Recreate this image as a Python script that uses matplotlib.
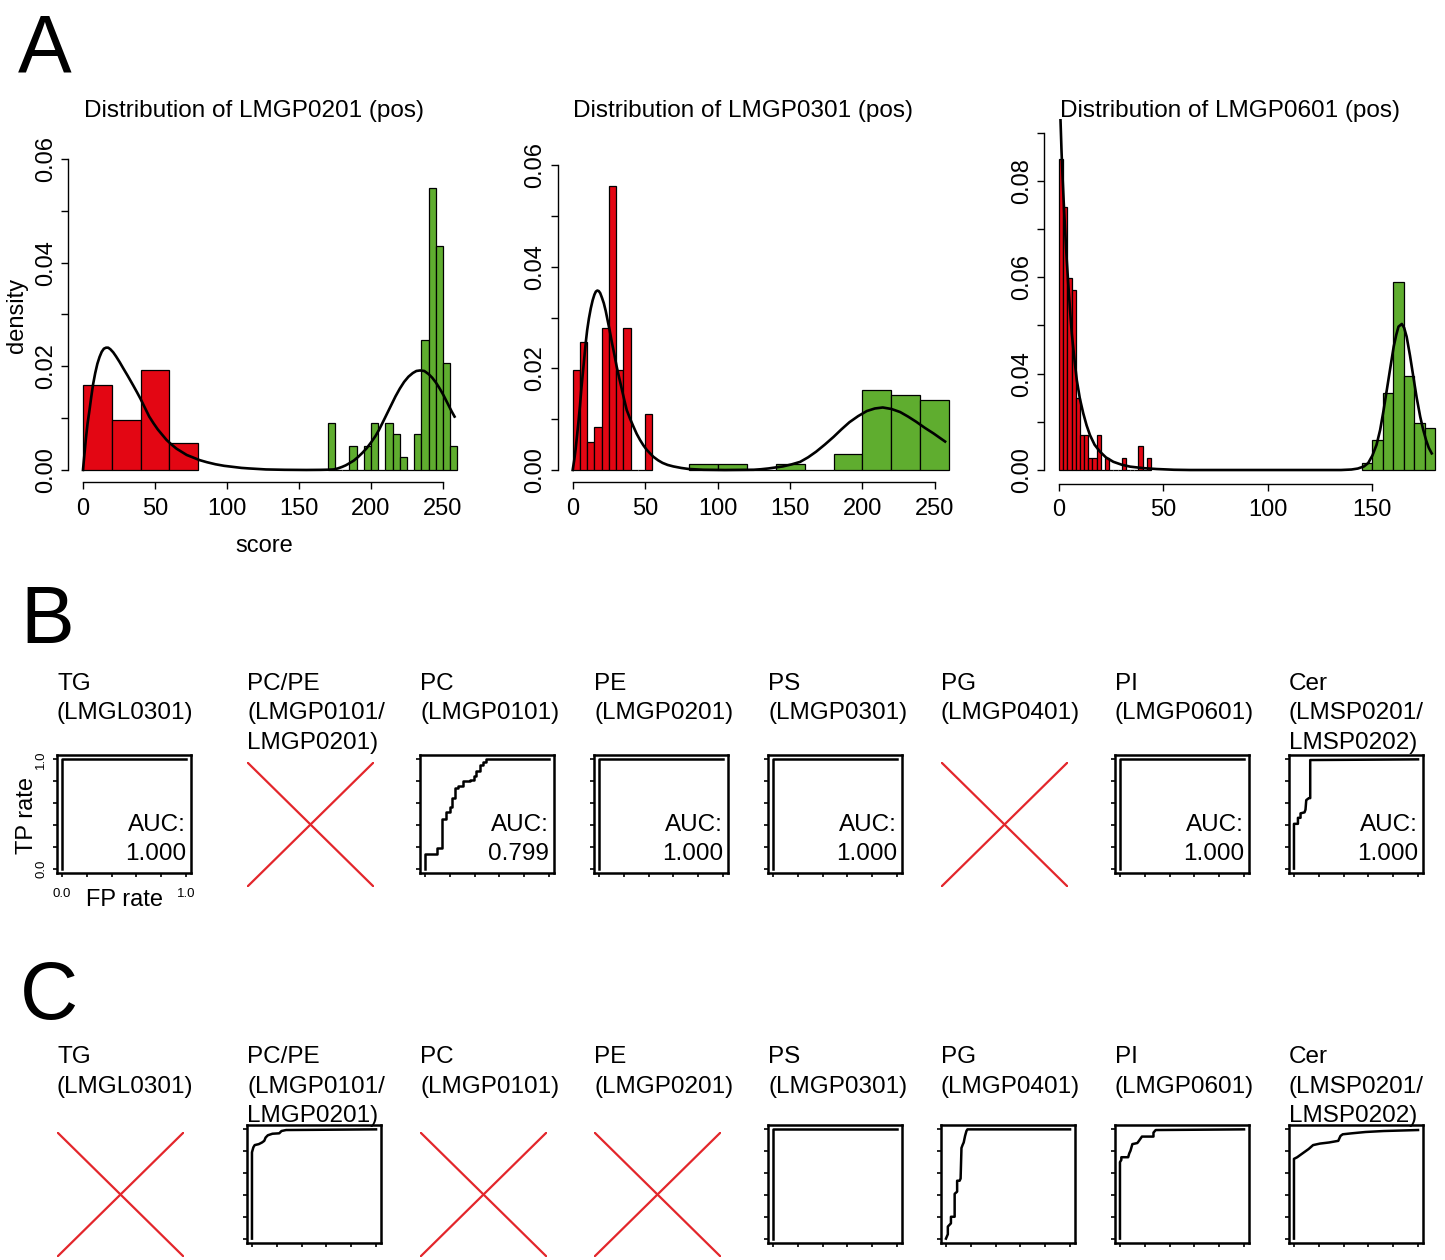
import matplotlib.pyplot as plt

plt.rcParams['font.family'] = ['Liberation Sans', 'DejaVu Sans']

W, H = 1445, 1260
RED = '#E30613'
GREEN = '#5FAD2F'
XRED = '#E3262B'

# ---------- A: histograms (bin left edge, density) + fitted curves ----------
h1_red_left = [0, 20, 40, 60]
h1_red = [0.0163, 0.0096, 0.0193, 0.0052]
h1_green_left = [170, 175, 180, 185, 190, 195, 200, 205, 210, 215, 220, 225, 230, 235, 240, 245, 250, 255]
h1_green = [0.0091, 0, 0, 0.0046, 0, 0.0046, 0.0091, 0, 0.0091, 0.0069, 0.0025, 0, 0.0069, 0.0251, 0.0545, 0.0432, 0.0206, 0.0046]
h1_curve_x = [0, 1, 2, 3.2, 4.5, 5.7, 7, 8.5, 10, 11.5, 13, 14.5, 16, 17.5, 19, 21, 23, 25.5, 28, 31, 34.7, 37.5,
              40, 43, 46, 49, 52, 55, 58, 61.5, 65, 68.5, 72, 76.5, 81, 86, 92, 98, 104, 110, 115, 121, 127, 140,
              155, 165, 170, 174, 177, 180, 182.5, 185, 188, 191, 194, 197, 200, 203, 205.5, 208, 211, 214, 217,
              220, 223, 226, 229, 231.5, 234, 237, 240, 242.5, 245, 247.5, 250, 252, 254, 256, 258]
h1_curve_y = [0, 0.003, 0.006, 0.009, 0.0115, 0.014, 0.0165, 0.0187, 0.0205, 0.0218, 0.0228, 0.0234, 0.0236,
              0.0236, 0.0233, 0.0227, 0.0219, 0.0208, 0.0196, 0.0182, 0.0164, 0.015, 0.0137, 0.012, 0.0103, 0.009,
              0.0078, 0.0068, 0.0058, 0.0049, 0.0041, 0.0035, 0.0029, 0.0024, 0.0019, 0.0015, 0.0011, 0.0008,
              0.0006, 0.0004, 0.0003, 0.0002, 0.0001, 0.00003, 0, 0.00002, 0.00005, 0.0001, 0.0003, 0.0006,
              0.0009, 0.0013, 0.0018, 0.0025, 0.0033, 0.0042, 0.0053, 0.0065, 0.0077, 0.0091, 0.0108, 0.0125,
              0.0142, 0.0157, 0.017, 0.018, 0.0187, 0.0191, 0.0192, 0.0191, 0.0185, 0.0178, 0.0169, 0.0158,
              0.0146, 0.0135, 0.0124, 0.0113, 0.0103]

h2_red_left = [0, 5, 10, 15, 20, 25, 30, 35, 40, 45, 50]
h2_red = [0.0196, 0.0251, 0.0056, 0.0084, 0.0279, 0.0558, 0.0196, 0.0279, 0, 0, 0.0111]
h2_green_left = [80, 100, 120, 140, 160, 180, 200, 220, 240]
h2_green = [0.0011, 0.0011, 0, 0.0011, 0, 0.0031, 0.0157, 0.0147, 0.0137]
h2_curve_x = [0, 1, 2, 3, 4, 5, 6, 7, 8, 9, 10, 11.2, 12.5, 13.8, 15, 16, 17, 18, 19, 20.2, 21.5, 22.8, 24, 25.5,
              27, 28.7, 30.4, 32.2, 34, 35.6, 37.3, 39.6, 42, 44.2, 46.5, 48.7, 51, 53.3, 55.7, 59, 62, 65.5,
              69.5, 75, 80, 90, 105, 125, 130, 135, 140, 145, 151, 157, 162.5, 168, 174, 180, 185.5, 191, 197,
              203, 208.5, 214, 220, 226, 231.5, 237, 243, 249, 253, 257]
h2_curve_y = [0, 0.0018, 0.004, 0.0067, 0.0095, 0.0125, 0.016, 0.019, 0.022, 0.025, 0.0275, 0.0298, 0.0318,
              0.0334, 0.0345, 0.0351, 0.0353, 0.0352, 0.0348, 0.0339, 0.0328, 0.0313, 0.0296, 0.0275, 0.0252,
              0.0228, 0.0203, 0.018, 0.0158, 0.0138, 0.0118, 0.0101, 0.0085, 0.0071, 0.0059, 0.0049, 0.004,
              0.0033, 0.0026, 0.0019, 0.0014, 0.001, 0.0007, 0.0004, 0.0002, 0.00005, 0, 0.00005, 0.00015,
              0.0003, 0.0005, 0.0007, 0.0011, 0.0016, 0.0025, 0.0036, 0.005, 0.0065, 0.008, 0.0094, 0.0106,
              0.0116, 0.0121, 0.0123, 0.012, 0.0114, 0.0105, 0.0095, 0.0083, 0.0072, 0.0064, 0.0056]

h3_red_left = [0, 2, 4, 6, 8, 10, 12, 14, 16, 18, 20, 22, 24, 26, 28, 30, 32, 34, 36, 38, 40, 42]
h3_red = [0.1289, 0.1093, 0.0795, 0.0747, 0.0297, 0.0145, 0.0145, 0.0049, 0.0049, 0.0145, 0, 0.0049,
          0, 0, 0, 0.0049, 0, 0, 0, 0.0101, 0, 0.0049]
h3_green_left = [145, 150, 155, 160, 165, 170, 175]
h3_green = [0.0028, 0.0124, 0.0318, 0.0781, 0.0390, 0.0196, 0.0173]
h3_curve_x = [0.7, 1.2, 1.75, 2.3, 2.9, 3.7, 4.5, 5.3, 6.1, 7.3, 8.5, 10, 11.6, 13.2, 14.8, 17, 19.6, 22.5, 26,
              30, 34, 40, 46.8, 55, 62.7, 135, 140, 143, 146, 148, 150, 152, 153.7, 155.3, 156.9, 158.5, 160.2,
              161.4, 162.5, 164.1, 165.2, 166.4, 168, 169.6, 171.2, 172.9, 174.3, 175.7, 177, 178.4]
h3_curve_y = [0.1452, 0.132, 0.1203, 0.11, 0.0996, 0.087, 0.0761, 0.066, 0.0567, 0.0465, 0.0373, 0.0295,
              0.0235, 0.0185, 0.0145, 0.0105, 0.0076, 0.0052, 0.0034, 0.0022, 0.0014, 0.0008, 0.0004, 0.0001,
              0, 0, 0.0002, 0.0006, 0.0015, 0.0029, 0.006, 0.0105, 0.0166, 0.0245, 0.0332, 0.042, 0.0512,
              0.056, 0.0595, 0.0606, 0.059, 0.0553, 0.0475, 0.0387, 0.03, 0.0221, 0.0168, 0.0124, 0.0092, 0.0069]

hist_titles = ['Distribution of LMGP0201 (pos)', 'Distribution of LMGP0301 (pos)', 'Distribution of LMGP0601 (pos)']

# ---------- B / C: ROC curves (FP rate, TP rate), None = crossed out ----------
roc_titles = ['TG\n(LMGL0301)', 'PC/PE\n(LMGP0101/\nLMGP0201)', 'PC\n(LMGP0101)', 'PE\n(LMGP0201)',
              'PS\n(LMGP0301)', 'PG\n(LMGP0401)', 'PI\n(LMGP0601)', 'Cer\n(LMSP0201/\nLMSP0202)']

perfect = ([0, 0, 1], [0, 1, 1])
b_pc = ([0, 0, 0.094, 0.094, 0.137, 0.137, 0.166, 0.166, 0.20, 0.20, 0.215, 0.215, 0.246, 0.246, 0.266, 0.266,
         0.31, 0.31, 0.366, 0.366, 0.395, 0.395, 0.41, 0.41, 0.44, 0.44, 0.466, 0.466, 0.494, 0.494, 1.0],
        [0, 0.13, 0.13, 0.19, 0.19, 0.45, 0.45, 0.52, 0.52, 0.56, 0.56, 0.65, 0.65, 0.74, 0.74, 0.76, 0.76, 0.80,
         0.80, 0.815, 0.815, 0.845, 0.845, 0.89, 0.89, 0.95, 0.95, 0.98, 0.98, 1.0, 1.0])
b_cer = ([0, 0, 0.032, 0.032, 0.053, 0.053, 0.085, 0.093, 0.099, 0.12, 0.131, 0.131, 1.0],
         [0, 0.41, 0.41, 0.465, 0.465, 0.506, 0.515, 0.54, 0.627, 0.645, 0.645, 0.994, 1.0])
c_pcpe = ([0, 0, 0.011, 0.022, 0.055, 0.081, 0.099, 0.11, 0.128, 0.165, 0.22, 0.238, 0.275, 1.0],
          [0, 0.79, 0.835, 0.856, 0.865, 0.88, 0.895, 0.925, 0.946, 0.96, 0.964, 0.985, 0.994, 1.0])
c_pg = ([0, 0.015, 0.015, 0.04, 0.04, 0.07, 0.07, 0.09, 0.09, 0.11, 0.118, 0.125, 0.135, 0.143, 0.154, 0.165, 0.173, 1.0],
        [0, 0.04, 0.11, 0.14, 0.2, 0.2, 0.41, 0.43, 0.53, 0.53, 0.55, 0.83, 0.86, 0.88, 0.94, 0.985, 1.0, 1.0])
c_pi = ([0, 0, 0.011, 0.011, 0.066, 0.075, 0.085, 0.10, 0.14, 0.15, 0.177, 0.27, 0.27, 0.288, 1.0],
        [0, 0.70, 0.72, 0.745, 0.745, 0.78, 0.805, 0.865, 0.875, 0.89, 0.934, 0.934, 0.97, 0.994, 1.0])
c_cer = ([0, 0, 0.026, 0.0625, 0.118, 0.154, 0.21, 0.283, 0.357, 0.375, 0.393, 0.467, 0.577, 0.724, 1.0],
         [0, 0.73, 0.745, 0.775, 0.82, 0.856, 0.87, 0.88, 0.895, 0.94, 0.955, 0.964, 0.976, 0.985, 0.994])

roc_B = [perfect, None, b_pc, perfect, perfect, None, perfect, b_cer]
auc_B = ['1.000', None, '0.799', '1.000', '1.000', None, '1.000', '1.000']
roc_C = [None, c_pcpe, None, None, perfect, c_pg, c_pi, c_cer]

fig = plt.figure(figsize=(W / 100, H / 100), dpi=100)


def px_axes(x0, y0, x1, y1):
    return fig.add_axes([x0 / W, 1 - y1 / H, (x1 - x0) / W, (y1 - y0) / H])


def hist_panel(box, red, green, curve, xmax, ytop, xticks, yticks, ylabels):
    ax = px_axes(*box)
    ax.bar(red[0], red[1], width=red[2], align='edge', color=RED, edgecolor='black', linewidth=0.9)
    ax.bar(green[0], green[1], width=green[2], align='edge', color=GREEN, edgecolor='black', linewidth=0.9)
    ax.plot(curve[0], curve[1], color='black', lw=1.9)
    ax.set_xlim(-0.04 * xmax, 1.04 * xmax)
    ax.set_ylim(-0.04 * ytop, 1.04 * ytop)
    ax.spines['top'].set_visible(False)
    ax.spines['right'].set_visible(False)
    ax.spines['left'].set_bounds(0, yticks[-1])
    ax.spines['bottom'].set_bounds(xticks[0], xticks[-1])
    for s in ['left', 'bottom']:
        ax.spines[s].set_linewidth(1.0)
    ax.set_xticks(xticks)
    ax.set_xticklabels([str(t) for t in xticks])
    ax.set_yticks(yticks)
    ax.set_yticklabels(ylabels, rotation=90, va='center')
    ax.tick_params(direction='out', length=5, width=1.0, labelsize=17)
    ax.tick_params(axis='x', pad=6.5)
    ax.tick_params(axis='y', pad=3)
    return ax


hist_panel((68, 146.6, 472.4, 482.4), (h1_red_left, h1_red, 20), (h1_green_left, h1_green, 5),
           (h1_curve_x, h1_curve_y), 260, 0.06, [0, 50, 100, 150, 200, 250],
           [0, 0.01, 0.02, 0.03, 0.04, 0.05, 0.06], ['0.00', '', '0.02', '', '0.04', '', '0.06'])
hist_panel((557.6, 152.8, 964.5, 482.2), (h2_red_left, h2_red, 5), (h2_green_left, h2_green, 20),
           (h2_curve_x, h2_curve_y), 260, 0.06, [0, 50, 100, 150, 200, 250],
           [0, 0.01, 0.02, 0.03, 0.04, 0.05, 0.06], ['0.00', '', '0.02', '', '0.04', '', '0.06'])
hist_panel((1044, 119.1, 1450.1, 483.5), (h3_red_left, h3_red, 2), (h3_green_left, h3_green, 5),
           (h3_curve_x, h3_curve_y), 180, 0.14, [0, 50, 100, 150],
           [0, 0.02, 0.04, 0.06, 0.08, 0.10, 0.12, 0.14], ['0.00', '', '0.04', '', '0.06', '', '0.08', ''])

for cx, t in zip([254, 743, 1230], hist_titles):
    fig.text(cx / W, 1 - 117 / H, t, ha='center', va='baseline', fontsize=17.5)
fig.text(264 / W, 1 - 552 / H, 'score', ha='center', va='baseline', fontsize=17)
fig.text(17 / W, 1 - 315 / H, 'density', ha='center', va='center', rotation=90, fontsize=17)

# panel letters
fig.text(18 / W, 1 - 72 / H, 'A', ha='left', va='baseline', fontsize=58)
fig.text(20 / W, 1 - 643 / H, 'B', ha='left', va='baseline', fontsize=58)
fig.text(20 / W, 1 - 1019 / H, 'C', ha='left', va='baseline', fontsize=58)

cols = [57, 247, 420, 594, 768, 941, 1115, 1289]


def roc_row(top, title_base, curves, aucs, first_labels):
    for i, (x0, title, cur) in enumerate(zip(cols, roc_titles, curves)):
        for j, line in enumerate(title.split('\n')):
            fig.text(x0 / W, 1 - (title_base + j * 29.5) / H, line, ha='left', va='baseline', fontsize=17.5)
        if cur is None:
            ax = px_axes(x0, top + 7, x0 + 127, top + 132)
            ax.plot([0, 1], [1, 0], color=XRED, lw=1.6)
            ax.plot([0, 1], [0, 1], color=XRED, lw=1.6)
            ax.set_xlim(0, 1)
            ax.set_ylim(0, 1)
            ax.axis('off')
            continue
        ax = px_axes(x0, top, x0 + 134, top + 118)
        ax.plot(cur[0], cur[1], color='black', lw=1.8)
        ax.set_xlim(-0.04, 1.04)
        ax.set_ylim(-0.04, 1.04)
        for s in ax.spines.values():
            s.set_linewidth(1.8)
        ticks = [0, 0.2, 0.4, 0.6, 0.8, 1.0]
        ax.set_xticks(ticks)
        ax.set_yticks(ticks)
        ax.tick_params(direction='out', length=3, width=1.2)
        if first_labels and i == 0:
            lab = ['0.0', '', '', '', '', '1.0']
            ax.set_xticklabels(lab, fontsize=9.5)
            ax.set_yticklabels(lab, fontsize=9.5, rotation=90, va='center')
            ax.tick_params(axis='x', pad=8)
            ax.tick_params(axis='y', pad=4)
        else:
            ax.tick_params(labelbottom=False, labelleft=False)
        if aucs is not None and aucs[i] is not None:
            ax.text(1.0, 0.40, 'AUC:', ha='right', va='center', fontsize=17.5)
            ax.text(1.0, 0.135, aucs[i], ha='right', va='center', fontsize=17.5)


roc_row(755, 690, roc_B, auc_B, True)
roc_row(1125, 1063, roc_C, None, False)

fig.text(27 / W, 1 - 815 / H, 'TP rate', ha='center', va='center', rotation=90, fontsize=17)
fig.text(125 / W, 1 - 906 / H, 'FP rate', ha='center', va='baseline', fontsize=17)

fig.savefig('out.png', dpi=100)
